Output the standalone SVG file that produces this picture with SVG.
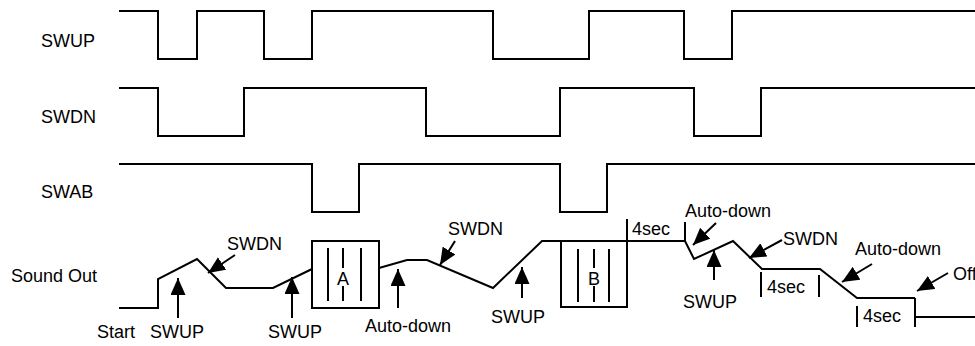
<svg xmlns="http://www.w3.org/2000/svg" width="975" height="346" viewBox="0 0 975 346">
<style>
.w{fill:none;stroke:#000;stroke-width:2;stroke-linejoin:miter}
.t{font-family:"Liberation Sans",Arial,Helvetica,sans-serif;font-size:18px;fill:#000}
.m{text-anchor:middle}
.a{fill:none;stroke:#000;stroke-width:2}
.k{stroke:#000;stroke-width:2}
</style>
<defs>
<marker id="ah" markerUnits="userSpaceOnUse" markerWidth="18" markerHeight="16" refX="17" refY="7.5" orient="auto">
<path d="M0,0 L17,7.5 L0,15 Z" fill="#000"/>
</marker>
</defs>
<rect width="975" height="346" fill="#fff"/>
<g id="signal-labels">
<text class="t" x="41" y="47">SWUP</text>
<text class="t" x="41" y="123">SWDN</text>
<text class="t" x="41" y="198">SWAB</text>
<text class="t" x="11" y="282">Sound Out</text>
</g>
<g id="waveforms">
<path id="swup" class="w" d="M119,11 H158 V59 H197 V11 H264 V59 H312 V11 H493 V59 H589 V11 H684 V59 H732 V11 H975"/>
<path id="swdn" class="w" d="M119,88 H158 V136 H244 V88 H426 V136 H560 V88 H694 V136 H761 V88 H975"/>
<path id="swab" class="w" d="M119,164 H312 V212 H359 V164 H560 V212 H607 V164 H975"/>
<path id="sound" class="w" d="M119,308 H158 V279 L197,259 L226,288 H273 L312,269 M379,268 L407,260 H427 L493,288 L542,241 H685 L694,259 L733,241 L762,269 H820 L857,298 H915 M915,317 H975"/>
</g>
<g id="box-a">
<rect class="w" x="312" y="241" width="67" height="67"/>
<line class="k" x1="328" y1="248" x2="328" y2="301"/>
<line class="k" x1="361" y1="248" x2="361" y2="301"/>
<line class="k" x1="343" y1="248" x2="343" y2="268"/>
<line class="k" x1="343" y1="286" x2="343" y2="301"/>
<text class="t m" x="343" y="285">A</text>
</g>
<g id="box-b">
<rect class="w" x="561" y="241" width="66" height="66"/>
<line class="k" x1="578" y1="249" x2="578" y2="302"/>
<line class="k" x1="609" y1="249" x2="609" y2="302"/>
<line class="k" x1="594" y1="249" x2="594" y2="268"/>
<line class="k" x1="594" y1="286" x2="594" y2="302"/>
<text class="t m" x="594" y="285">B</text>
</g>
<g id="timers">
<line class="k" x1="627" y1="219" x2="627" y2="241"/>
<text class="t" x="632" y="235">4sec</text>
<line class="k" x1="685" y1="222" x2="685" y2="241"/>
<line class="k" x1="761" y1="272" x2="761" y2="297"/>
<text class="t" x="767" y="293">4sec</text>
<line class="k" x1="819" y1="275" x2="819" y2="297"/>
<line class="k" x1="857" y1="306" x2="857" y2="327"/>
<text class="t" x="863" y="322">4sec</text>
<line class="k" x1="915" y1="298" x2="915" y2="327"/>
</g>
<g id="connectors">
<line class="a" x1="235" y1="255" x2="208" y2="273" marker-end="url(#ah)"/>
<line class="a" x1="178" y1="318" x2="178" y2="278" marker-end="url(#ah)"/>
<line class="a" x1="292" y1="318" x2="292" y2="277" marker-end="url(#ah)"/>
<line class="a" x1="398" y1="308" x2="398" y2="269" marker-end="url(#ah)"/>
<line class="a" x1="455" y1="241" x2="440" y2="265" marker-end="url(#ah)"/>
<line class="a" x1="522" y1="298" x2="522" y2="267" marker-end="url(#ah)"/>
<line class="a" x1="716" y1="223" x2="693" y2="245" marker-end="url(#ah)"/>
<line class="a" x1="714" y1="280" x2="714" y2="250" marker-end="url(#ah)"/>
<line class="a" x1="782" y1="240" x2="749" y2="258" marker-end="url(#ah)"/>
<line class="a" x1="872" y1="264" x2="842" y2="282" marker-end="url(#ah)"/>
<line class="a" x1="948" y1="273" x2="917" y2="291" marker-end="url(#ah)"/>
</g>
<g id="event-labels">
<text class="t" x="97" y="338">Start</text>
<text class="t" x="150" y="338">SWUP</text>
<text class="t" x="227" y="250">SWDN</text>
<text class="t" x="268" y="338">SWUP</text>
<text class="t" x="365" y="332">Auto-down</text>
<text class="t" x="448" y="235">SWDN</text>
<text class="t" x="491" y="323">SWUP</text>
<text class="t" x="685" y="217">Auto-down</text>
<text class="t" x="683" y="308">SWUP</text>
<text class="t" x="783" y="245">SWDN</text>
<text class="t" x="855" y="255">Auto-down</text>
<text class="t" x="953" y="280">Off</text>
</g>
</svg>
